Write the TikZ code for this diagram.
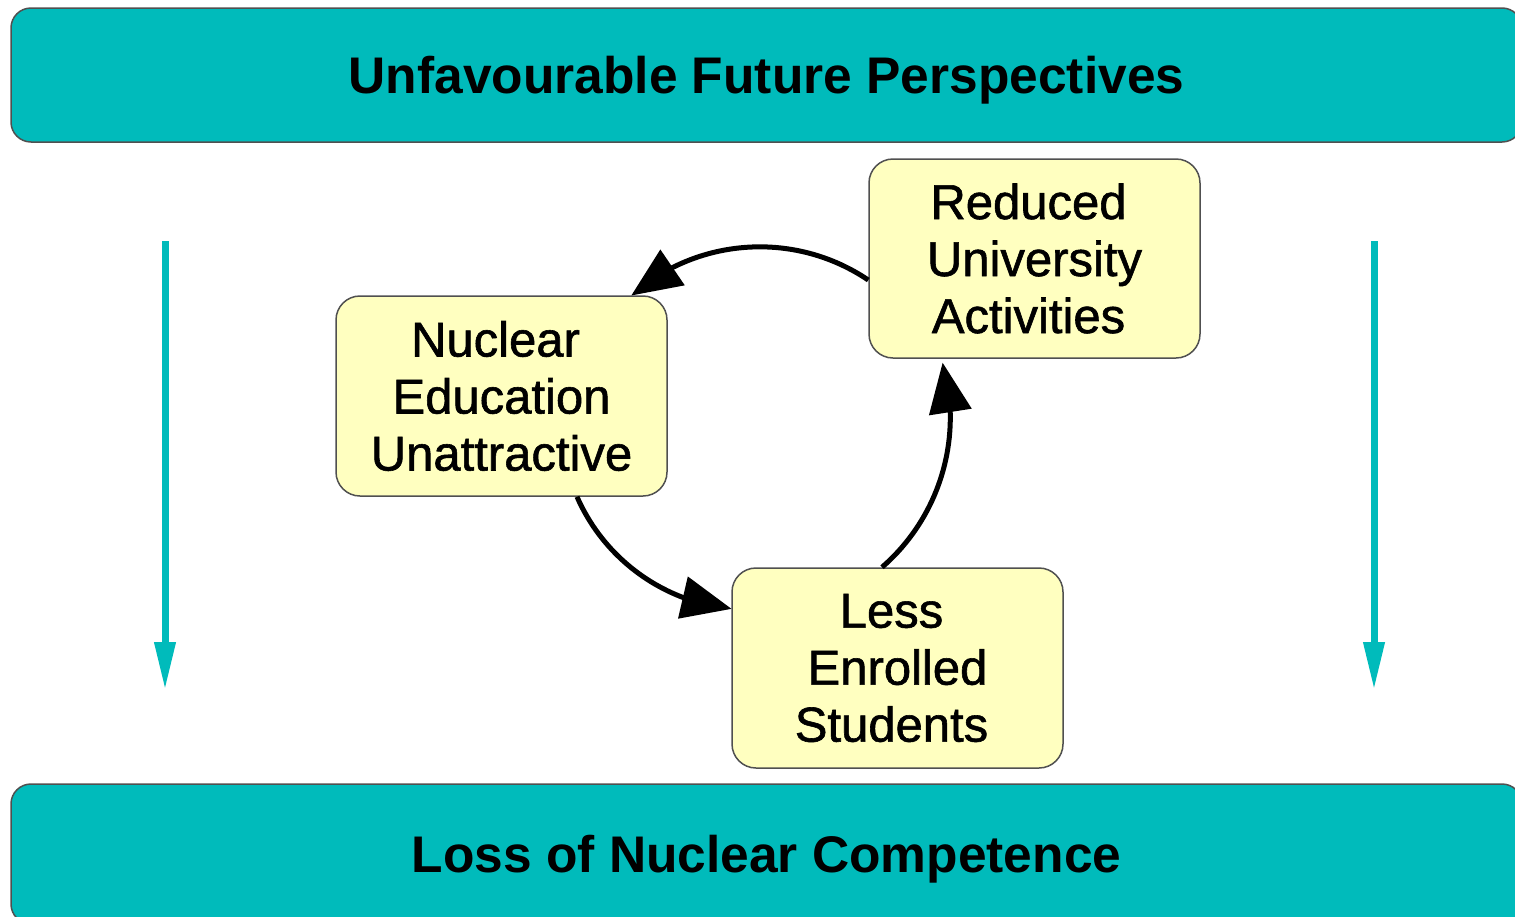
\documentclass[tikz,border=0pt]{standalone}
\usepackage{fontspec}
\setmainfont{Liberation Sans}
\newfontfamily\boxfont{Liberation Sans}[FakeBold=1.2]
\usetikzlibrary{arrows.meta,bending}
\definecolor{teal1}{RGB}{0,187,187}
\definecolor{yel}{RGB}{255,255,192}
\definecolor{bord}{RGB}{80,80,80}
\newcommand{\tsp}{\hspace*{12pt}}
\tikzset{
  band/.style={draw=bord, line width=1.5pt, fill=teal1, rounded corners=20pt,
    minimum width=1511pt, inner sep=0pt, text height=37pt, text depth=0pt,
    font=\bfseries\fontsize{51.5}{60}\selectfont},
  ybox/.style={draw=bord, line width=1.5pt, fill=yel, rounded corners=24pt,
    minimum width=331pt, minimum height=200pt, inner sep=0pt, align=center,
    font=\boxfont\fontsize{49}{57}\selectfont},
  cyc/.style={line width=5pt, -{Triangle[length=50pt,width=42pt,flex]}},
  down/.style={teal1, line width=7pt, -{Triangle[length=48pt,width=20pt]}}
}
\begin{document}
\begin{tikzpicture}[x=1pt,y=1pt]
\useasboundingbox (0,0) rectangle (1515,-916);
\node[band, minimum height=134pt] (top) at (766.5,-75) {Unfavourable Future Perspectives};
\node[band, minimum height=140pt] (bot) at (766.5,-854) {Loss of Nuclear Competence};

\node[ybox] (nuc) at (501.5,-396) {Nuclear\tsp\\Education\tsp\\Unattractive};
\node[ybox, minimum height=199pt] (red) at (1034.5,-258.5) {Reduced\tsp\\University\tsp\\Activities\tsp};
\node[ybox] (less) at (897.5,-668) {Less\tsp\\Enrolled\tsp\\Students\tsp};

\coordinate (l1) at (165,-241);
\coordinate (l2) at (165,-690);
\coordinate (r1) at (1374,-241);
\coordinate (r2) at (1374,-690);
\draw[down] (l1) -- (l2);
\draw[down] (r1) -- (r2);

\draw[cyc] ([yshift=-21.5pt]red.west) arc[start angle=56, end angle=131.5, radius=194];
\draw[cyc] ([xshift=75.5pt]nuc.south) arc[start angle=203.7, end angle=264.4, radius=189];
\draw[cyc] ([xshift=-15.5pt]less.north) arc[start angle=-49, end angle=16, radius=198.6];
\end{tikzpicture}
\end{document}
